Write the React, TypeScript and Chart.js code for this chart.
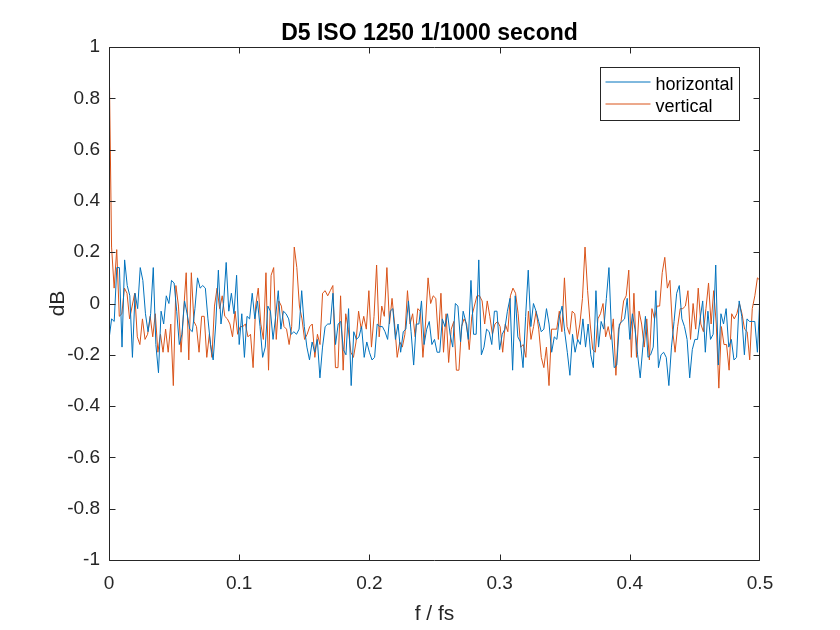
import React, { useEffect, useRef } from "react";
import { Chart, registerables } from "chart.js";

Chart.register(...registerables);

const TITLE = "D5 ISO 1250 1/1000 second";
const X_LABEL = "f / fs";
const Y_LABEL = "dB";
const SERIES_NAMES = ["horizontal", "vertical"];
const SERIES_COLORS = ["#0072BD", "#D95319"];
const X_MIN = 0;
const X_MAX = 0.5;
const X_STEP = 0.1;
const Y_MIN = -1;
const Y_MAX = 1;
const Y_STEP = 0.2;

const horizontal = [
  -0.14, -0.06, -0.07, 0.14, 0.14, -0.17, 0.17, 0.07, 0.03, -0.21, 0.04, -0.02, 0.14, 0.09, -0.04, -0.11, -0.04, 0.14, -0.16, -0.27, -0.03, -0.08, 0.03, 0, 0.09, 0.08, -0.03, -0.16, -0.12, 0.01, -0.04, -0.1, -0.11, -0.02, 0.1, 0.06, 0.07, 0.06, -0.06, -0.16, -0.22,
  -0.08, 0.13, -0.08, 0, 0.16, -0.03, 0.04, -0.04, 0.11, -0.16, -0.04, -0.21, -0.05, -0.06, 0.04, -0.06, 0.01, -0.09, -0.21, -0.17, -0.01, -0.03, -0.14, -0.05, 0.05, -0.1, -0.03, -0.04, -0.06, -0.12, -0.11, -0.12, -0.1, 0.05, -0.09, -0.17, -0.22, -0.15, -0.19, -0.14, -0.29,
  -0.17, -0.09, -0.08, -0.08, 0.04, -0.16, -0.08, -0.07, -0.18, -0.2, -0.02, -0.32, -0.11, -0.14, -0.13, -0.09, -0.21, -0.15, -0.19, -0.22, -0.21, -0.08, -0.09, -0.09, -0.11, -0.14, -0.03, -0.02, -0.14, -0.08, -0.19, -0.11, -0.1, 0.01, -0.11, -0.24, -0.08, -0.08, 0.01, -0.16, -0.1, -0.07,
  -0.16, -0.14, -0.19, -0.19, -0.06, -0.09, -0.04, -0.12, -0.17, 0, -0.01, -0.15, -0.03, -0.07, -0.14, 0.09, -0.12, -0.12, 0.17, -0.2, -0.17, -0.1, -0.11, -0.16, -0.03, -0.03, -0.18, -0.12, -0.1, -0.03, 0.02, -0.26, 0.03, -0.13, -0.15, -0.25, -0.05, 0.13, -0.09, 0, -0.03, -0.07,
  -0.11, -0.1, -0.02, -0.08, -0.19, -0.13, -0.14, -0.05, -0.01, -0.11, -0.19, -0.28, -0.12, -0.19, -0.14, -0.16, -0.06, -0.17, -0.08, -0.2, -0.25, 0.05, -0.17, -0.07, -0.1, 0.02, 0.14, -0.12, -0.25, -0.24, -0.08, -0.07, -0.06, 0.02, -0.14, -0.04, -0.1, -0.2, -0.29, -0.17, -0.05, -0.21, -0.2,
  -0.17, 0.05, -0.25, -0.2, -0.19, -0.21, -0.32, -0.17, -0.07, 0.04, 0.07, -0.06, -0.09, -0.14, -0.29, -0.18, -0.14, -0.14, -0.06, 0.01, -0.19, -0.03, -0.14, -0.12, 0.15, -0.24, -0.04, -0.08, -0.02, -0.17, -0.14, -0.22, -0.21, 0.01, -0.05, -0.2, -0.06, -0.07, -0.07, -0.07, -0.19, 0.03,
];

const vertical = [
  1.0, 0.22, 0.06, 0.21, -0.05, -0.04, 0.06, 0.04, -0.06, -0.01, 0.04, -0.13, -0.16, -0.06, -0.14, -0.12, -0.05, -0.13, -0.04, -0.19, -0.12, -0.19, -0.1, -0.19, -0.08, -0.32, 0.07, -0.01, -0.19, -0.03, 0.12, -0.22, 0.12, -0.07, -0.09, -0.19, -0.05, -0.05, -0.21, -0.12, -0.21, -0.01, 0.06,
  -0.02, 0.03, -0.05, -0.06, -0.08, -0.13, -0.03, -0.12, -0.09, -0.09, -0.08, -0.13, -0.12, -0.25, -0.01, 0.06, -0.08, -0.14, 0.12, -0.26, 0.11, 0.14, -0.14, 0.01, -0.01, -0.09, -0.1, -0.16, -0.09, 0.22, 0.14, -0.01, -0.06, -0.14, -0.12, -0.09, -0.08, -0.21, -0.12, -0.16, 0.04, 0.05,
  0.03, 0.05, 0.07, -0.25, -0.25, 0.03, -0.26, -0.04, -0.1, -0.19, -0.21, -0.15, -0.03, -0.1, -0.05, -0.1, 0.05, -0.17, -0.05, 0.15, -0.13, -0.01, -0.05, 0.14, -0.08, 0.02, -0.08, -0.21, -0.15, -0.17, -0.12, 0.05, -0.08, -0.04, -0.13, -0.02, -0.03, -0.21, -0.08, 0.1, 0, 0.03,
  0.02, -0.14, 0.04, -0.19, -0.04, -0.23, -0.1, -0.07, -0.26, -0.26, -0.09, -0.06, -0.08, -0.18, -0.05, -0.01, 0.03, 0.03, 0.01, -0.08, 0.01, -0.05, -0.12, -0.08, -0.07, -0.09, -0.19, -0.08, -0.11, 0.03, 0.06, 0.04, -0.04, -0.17, -0.16, -0.21, -0.03, -0.14, -0.09, -0.03, -0.1, -0.21,
  -0.25, -0.17, -0.32, -0.1, -0.1, -0.1, -0.03, -0.11, 0.1, -0.09, -0.12, -0.03, -0.04, -0.14, -0.08, 0.02, 0.22, 0.05, -0.08, -0.18, -0.19, -0.06, -0.04, 0, -0.13, -0.09, -0.14, -0.06, -0.28, -0.1, -0.07, 0.01, 0.03, 0.13, -0.21, 0.04, -0.21, -0.03, -0.08, -0.17, -0.06, -0.22, -0.02,
  -0.06, -0.01, -0.01, 0.12, 0.18, 0.06, 0.09, -0.1, -0.19, -0.09, -0.02, -0.02, -0.01, 0.05, -0.14, 0, -0.1, 0.06, -0.08, -0.11, -0.02, 0.08, -0.08, 0.05, -0.08, -0.33, -0.09, -0.16, -0.16, -0.26, -0.04, -0.06, -0.04, 0, -0.04, -0.1, -0.11, -0.22, -0.02, 0.03, 0.1, 0.09,
];

const FONT = "'Liberation Sans', Arial, Helvetica, sans-serif";
const AXIS_COLOR = "#262626";

// uniform frequency bins from 0 to X_MAX
const toPoints = (vals: number[]) =>
  vals.map((v, i) => ({ x: (i / (vals.length - 1)) * X_MAX, y: v }));

const fmt = (v: number | string) => String(Number(Number(v).toFixed(2)));

const framePlugin = {
  id: "matlabFrame",
  afterDatasetsDraw(chart: any) {
    const { ctx, chartArea: a, scales } = chart;
    const xs = scales.x;
    const ys = scales.y;
    const L = Math.round(a.left) + 0.5;
    const R = Math.round(a.right) - 0.5;
    const T = Math.round(a.top) + 0.5;
    const B = Math.round(a.bottom) + 0.5;
    const TL = 6;
    const clamp = (v: number, lo: number, hi: number) => Math.max(lo, Math.min(hi, v));
    ctx.save();
    ctx.strokeStyle = AXIS_COLOR;
    ctx.lineWidth = 1;
    ctx.beginPath();
    ctx.rect(L, T, R - L, B - T);
    xs.ticks.forEach((t: any) => {
      const px = clamp(Math.round(xs.getPixelForValue(t.value)) + 0.5, L, R);
      ctx.moveTo(px, B);
      ctx.lineTo(px, B - TL);
      ctx.moveTo(px, T);
      ctx.lineTo(px, T + TL);
    });
    ys.ticks.forEach((t: any) => {
      const py = clamp(Math.round(ys.getPixelForValue(t.value)) + 0.5, T, B);
      ctx.moveTo(L, py);
      ctx.lineTo(L + TL, py);
      ctx.moveTo(R, py);
      ctx.lineTo(R - TL, py);
    });
    ctx.stroke();

    // legend
    const bw = 139;
    const bh = 53;
    const bx = Math.round(a.right) - 21 - bw + 0.5;
    const by = Math.round(a.top) + 20 + 0.5;
    ctx.fillStyle = "#ffffff";
    ctx.fillRect(bx, by, bw, bh);
    ctx.strokeRect(bx, by, bw, bh);
    ctx.font = `18px ${FONT}`;
    ctx.textBaseline = "alphabetic";
    ctx.textAlign = "left";
    chart.data.datasets.forEach((ds: any, i: number) => {
      const ly = by + 14.5 + i * 22;
      ctx.strokeStyle = ds.borderColor;
      ctx.beginPath();
      ctx.moveTo(bx + 5, ly);
      ctx.lineTo(bx + 50, ly);
      ctx.stroke();
      ctx.fillStyle = "#000000";
      ctx.fillText(ds.label, bx + 55, ly + 8);
    });

    // title and axis labels
    const cx = (a.left + a.right) / 2;
    ctx.fillStyle = "#000000";
    ctx.textAlign = "center";
    ctx.font = `bold 23px ${FONT}`;
    ctx.fillText(TITLE, cx - 5, a.top - 7);
    ctx.fillStyle = AXIS_COLOR;
    ctx.font = `21px ${FONT}`;
    ctx.fillText(X_LABEL, cx, a.bottom + 60);
    ctx.save();
    ctx.translate(a.left - 45, (a.top + a.bottom) / 2);
    ctx.rotate(-Math.PI / 2);
    ctx.fillText(Y_LABEL, 0, 0);
    ctx.restore();
    ctx.restore();
  },
};

export default function App() {
  const ref = useRef<HTMLCanvasElement | null>(null);
  useEffect(() => {
    if (!ref.current) return;
    const chart = new Chart(ref.current, {
      type: "line",
      data: {
        datasets: [
          {
            label: SERIES_NAMES[0],
            data: toPoints(horizontal),
            borderColor: SERIES_COLORS[0],
            backgroundColor: SERIES_COLORS[0],
            borderWidth: 1,
            pointRadius: 0,
            fill: false,
          },
          {
            label: SERIES_NAMES[1],
            data: toPoints(vertical),
            borderColor: SERIES_COLORS[1],
            backgroundColor: SERIES_COLORS[1],
            borderWidth: 1,
            pointRadius: 0,
            fill: false,
          },
        ],
      },
      options: {
        animation: false,
        responsive: false,
        devicePixelRatio: 1,
        parsing: false,
        normalized: true,
        layout: { padding: { top: 47, right: 80, left: 0, bottom: 0 } },
        plugins: {
          legend: { display: false },
          title: { display: false },
          tooltip: { enabled: false },
        },
        elements: { line: { tension: 0 } },
        scales: {
          x: {
            type: "linear",
            min: X_MIN,
            max: X_MAX,
            ticks: {
              stepSize: X_STEP,
              padding: 12,
              color: AXIS_COLOR,
              font: { family: FONT, size: 19 },
              maxRotation: 0,
              callback: (v: any) => fmt(v),
            },
            grid: { display: false, drawTicks: false },
            border: { display: false },
            afterFit: (s: any) => {
              s.height = 70;
            },
          },
          y: {
            type: "linear",
            min: Y_MIN,
            max: Y_MAX,
            ticks: {
              stepSize: Y_STEP,
              padding: 9,
              color: AXIS_COLOR,
              font: { family: FONT, size: 19 },
              callback: (v: any) => fmt(v),
            },
            grid: { display: false, drawTicks: false },
            border: { display: false },
            afterFit: (s: any) => {
              s.width = 109;
            },
          },
        },
      },
      plugins: [framePlugin],
    } as any);
    return () => chart.destroy();
  }, []);
  return (
    <div style={{ position: "absolute", left: 0, top: 0, width: 840, height: 630, background: "#fff" }}>
      <canvas ref={ref} width={840} height={630} style={{ display: "block", width: 840, height: 630 }} />
    </div>
  );
}
